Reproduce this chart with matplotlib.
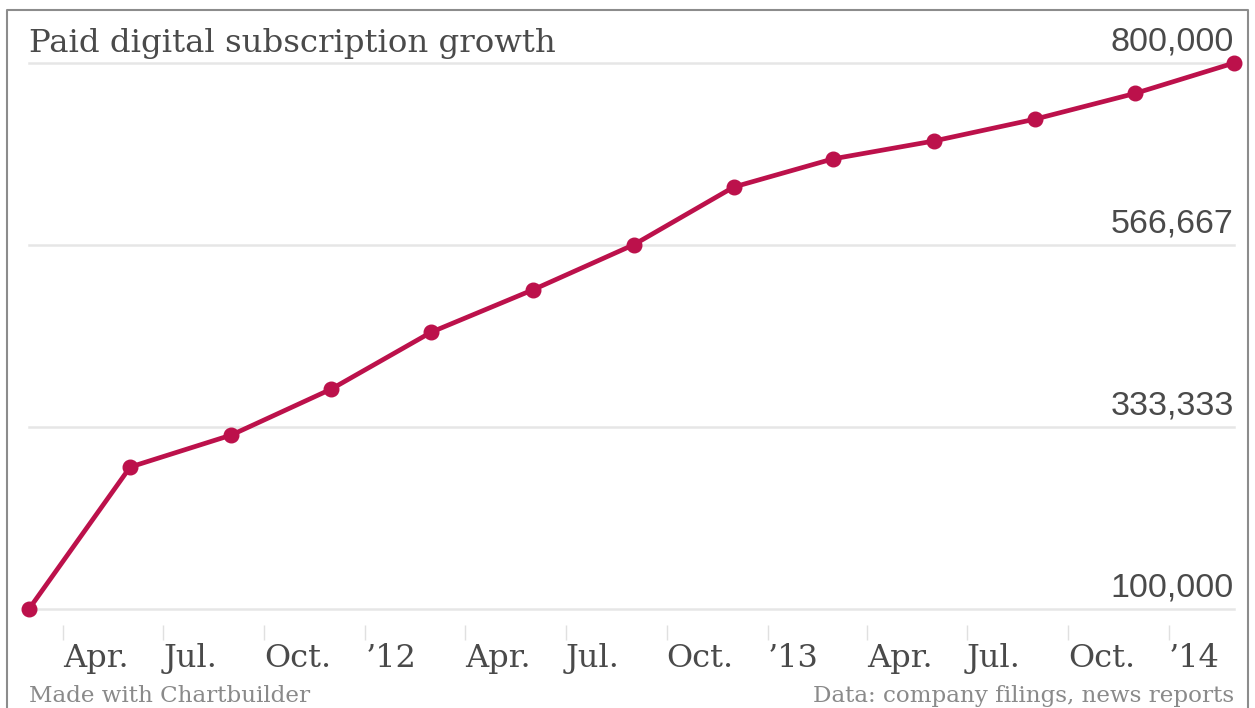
import numpy as np
import matplotlib
matplotlib.use("Agg")
import matplotlib.pyplot as plt
import matplotlib.dates as mdates
import matplotlib.transforms as mtransforms
from matplotlib.lines import Line2D

# data
dates = ["2011-03-01", "2011-06-01", "2011-09-01", "2011-12-01",
         "2012-03-01", "2012-06-01", "2012-09-01", "2012-12-01",
         "2013-03-01", "2013-06-01", "2013-09-01", "2013-12-01",
         "2014-03-01"]
subscribers = [100000, 282000, 323000, 382000,
               455000, 509000, 567000, 641000,
               677000, 700000, 728000, 761000,
               800000]

y_ticks = [100000, 333333, 566667, 800000]
x_tick_dates = ["2011-04-01", "2011-07-01", "2011-10-01", "2012-01-01",
                "2012-04-01", "2012-07-01", "2012-10-01", "2013-01-01",
                "2013-04-01", "2013-07-01", "2013-10-01", "2014-01-01"]
x_tick_labels = ["Apr.", "Jul.", "Oct.", "\u201912",
                 "Apr.", "Jul.", "Oct.", "\u201913",
                 "Apr.", "Jul.", "Oct.", "\u201914"]

title = "Paid digital subscription growth"
credit = "Made with Chartbuilder"
source = "Data: company filings, news reports"

line_color = "#bc114b"
serif = ["DejaVu Serif"]
sans = ["Liberation Sans", "DejaVu Sans"]

x = mdates.datestr2num(dates)
xt = mdates.datestr2num(x_tick_dates)

fig = plt.figure(figsize=(12.55, 7.08), dpi=100)
ax = fig.add_axes([29 / 1255, 1 - 609 / 708, (1234 - 29) / 1255, (609 - 63) / 708])

ax.set_xlim(x[0], x[-1])
ax.set_ylim(y_ticks[0], y_ticks[-1])

for v in y_ticks:
    ax.axhline(v, color="#e6e6e6", lw=1.8, zorder=0, clip_on=False)

ax.plot(x, subscribers, color=line_color, lw=3.4, marker="o", ms=10.5,
        markeredgecolor=line_color, clip_on=False, zorder=3)

# y labels sit above the grid lines, right-aligned
for v in y_ticks:
    ax.annotate(f"{v:,}", xy=(1, v), xycoords=("axes fraction", "data"),
                xytext=(0, 4), textcoords="offset points",
                ha="right", va="bottom", fontsize=24.5, color="#4a4a4a",
                family=sans)

# x ticks: short faint marks below the axis, labels to the right of each mark
trans = mtransforms.blended_transform_factory(ax.transData, ax.transAxes)
ax.vlines(xt, -16 / 546, -31 / 546, transform=trans, color="#e0e0e0",
          lw=1, clip_on=False)
for t, lab in zip(xt, x_tick_labels):
    ax.text(t, -58 / 546, lab, transform=trans, ha="left", va="baseline",
            fontsize=23, color="#4a4a4a", family=serif)

ax.set_xticks([])
ax.set_yticks([])
for s in ax.spines.values():
    s.set_visible(False)

fig.text(29 / 1255, 1 - 52 / 708, title, ha="left", va="baseline",
         fontsize=23.3, color="#4a4a4a", family=serif)
fig.text(29 / 1255, 1 - 702 / 708, credit, ha="left", va="baseline",
         fontsize=16.6, color="#8a8a8a", family=serif)
fig.text(1234 / 1255, 1 - 702 / 708, source, ha="right", va="baseline",
         fontsize=16.6, color="#8a8a8a", family=serif)

# outer frame
fx = [7 / 1255, 7 / 1255, 1248 / 1255, 1248 / 1255]
fy = [0, 1 - 10 / 708, 1 - 10 / 708, 0]
fig.add_artist(Line2D(fx, fy, transform=fig.transFigure, color="#8c8c8c", lw=1.5))

fig.savefig("out.png", dpi=100, facecolor="white")
